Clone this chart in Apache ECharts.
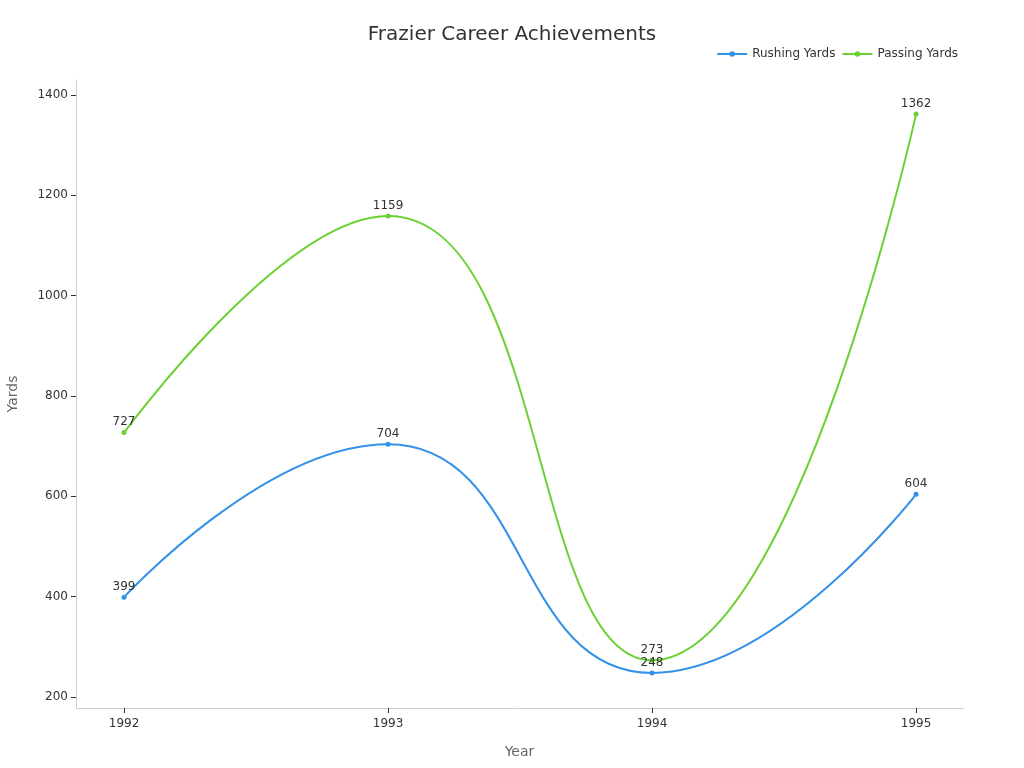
<!DOCTYPE html>
<html><head><meta charset="utf-8">
<script src="https://cdn.jsdelivr.net/npm/echarts@6/dist/echarts.min.js"></script>
<style>html,body{margin:0;padding:0;background:#fff}#c{width:1024px;height:768px}</style>
</head><body><div id="c"></div>
<script>
const years = [1992, 1993, 1994, 1995];
const rushingYards = [399, 704, 248, 604];
const passingYards = [727, 1159, 273, 1362];
const yTicks = [200, 400, 600, 800, 1000, 1200, 1400];

const chart = echarts.init(document.getElementById('c'));
const font = 'DejaVu Sans';
chart.setOption({
  textStyle: {fontFamily: font},
  title: {text: 'Frazier Career Achievements', left: 'center', top: 20,
    textStyle: {fontSize: 20, fontWeight: 'normal', color: '#333', fontFamily: font}},
  legend: {top: 43, right: 61, itemWidth: 30, itemHeight: 7, itemGap: 6,
    textStyle: {fontSize: 12, color: '#333', fontFamily: font},
    data: ['Rushing Yards', 'Passing Yards']},
  grid: {left: 76, right: 61, top: 80, bottom: 60, containLabel: false, outerBoundsMode: 'none'},
  xAxis: {type: 'value', min: 1991.818, max: 1995.178,
    name: 'Year', nameLocation: 'middle', nameGap: 37,
    nameTextStyle: {fontSize: 14, color: '#666', fontFamily: font},
    axisLine: {show: true, lineStyle: {color: '#ccc'}},
    axisTick: {show: true, customValues: years, length: 5, lineStyle: {color: '#333'}},
    axisLabel: {customValues: years, color: '#333', fontSize: 12, margin: 10, formatter: v => String(v)},
    splitLine: {show: false}},
  yAxis: {type: 'value', min: 178, max: 1430,
    name: 'Yards', nameLocation: 'middle', nameGap: 56,
    nameTextStyle: {fontSize: 14, color: '#666', fontFamily: font},
    axisLine: {show: true, lineStyle: {color: '#ccc'}},
    axisTick: {show: true, customValues: yTicks, length: 5, lineStyle: {color: '#333'}},
    axisLabel: {customValues: yTicks, color: '#333', fontSize: 12, margin: 8, formatter: v => String(v)},
    splitLine: {show: false}},
  series: [
    {name: 'Rushing Yards', type: 'line', smooth: true, symbol: 'circle', symbolSize: 5,
     data: years.map((y, i) => [y, rushingYards[i]]),
     itemStyle: {color: '#3491E8'}, lineStyle: {width: 2, color: '#3491E8'},
     label: {show: true, position: 'top', distance: 2, color: '#333', fontSize: 12, fontFamily: font}},
    {name: 'Passing Yards', type: 'line', smooth: true, symbol: 'circle', symbolSize: 5,
     data: years.map((y, i) => [y, passingYards[i]]),
     itemStyle: {color: '#6AD132'}, lineStyle: {width: 2, color: '#6AD132'},
     label: {show: true, position: 'top', distance: 2, color: '#333', fontSize: 12, fontFamily: font}}
  ]
});
</script></body></html>
